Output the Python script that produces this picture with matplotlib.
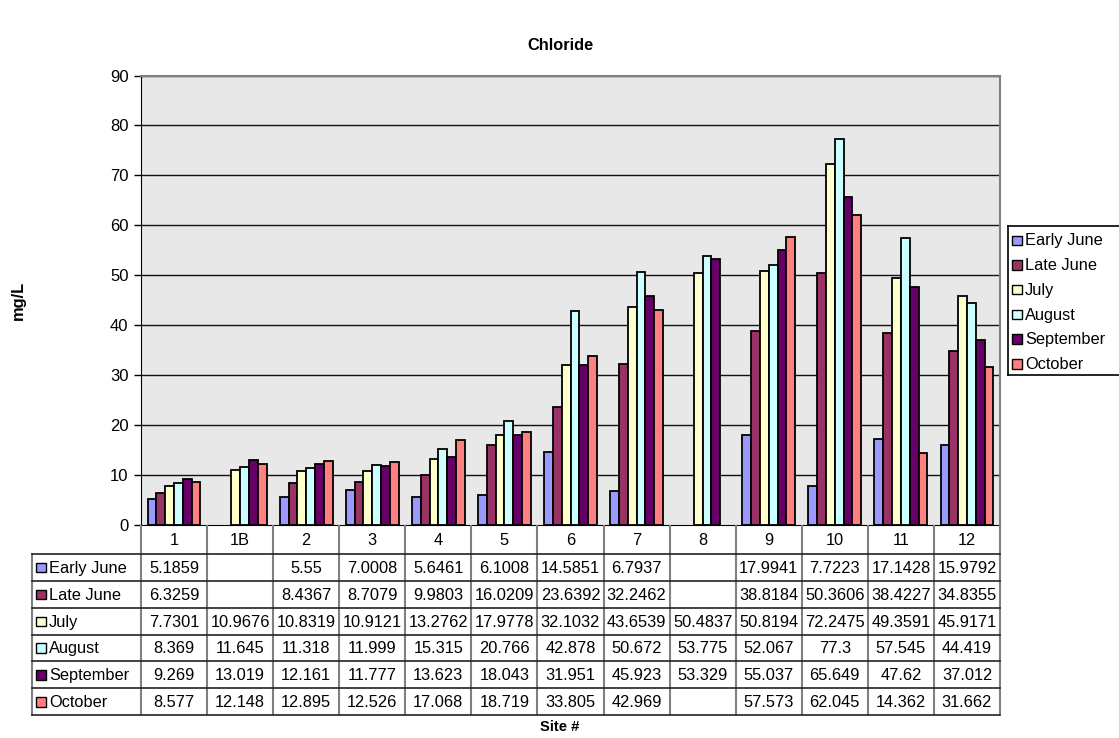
import matplotlib
matplotlib.use("Agg")
import matplotlib.pyplot as plt
from matplotlib.patches import Rectangle

plt.rcParams['font.family'] = ['Liberation Sans', 'DejaVu Sans']

categories = ['1', '1B', '2', '3', '4', '5', '6', '7', '8', '9', '10', '11', '12']
series_names = ['Early June', 'Late June', 'July', 'August', 'September', 'October']
early_june = [5.1859, None, 5.55, 7.0008, 5.6461, 6.1008, 14.5851, 6.7937, None, 17.9941, 7.7223, 17.1428, 15.9792]
late_june = [6.3259, None, 8.4367, 8.7079, 9.9803, 16.0209, 23.6392, 32.2462, None, 38.8184, 50.3606, 38.4227, 34.8355]
july = [7.7301, 10.9676, 10.8319, 10.9121, 13.2762, 17.9778, 32.1032, 43.6539, 50.4837, 50.8194, 72.2475, 49.3591, 45.9171]
august = [8.369, 11.645, 11.318, 11.999, 15.315, 20.766, 42.878, 50.672, 53.775, 52.067, 77.3, 57.545, 44.419]
september = [9.269, 13.019, 12.161, 11.777, 13.623, 18.043, 31.951, 45.923, 53.329, 55.037, 65.649, 47.62, 37.012]
october = [8.577, 12.148, 12.895, 12.526, 17.068, 18.719, 33.805, 42.969, None, 57.573, 62.045, 14.362, 31.662]
series = [early_june, late_june, july, august, september, october]
colors = ['#9999FF', '#993366', '#FFFFCC', '#CCFFFF', '#660066', '#FF8080']

W, H = 1119, 738
fig = plt.figure(figsize=(W / 100, H / 100), dpi=100)
fig.patch.set_facecolor('white')

# plot area in pixel coords
px_l, px_r, px_t, px_b = 141, 1000, 75.5, 525
ax = fig.add_axes([px_l / W, 1 - px_b / H, (px_r - px_l) / W, (px_b - px_t) / H])
ax.set_facecolor('#E8E8E8')
n = len(categories)
ax.set_xlim(-0.5, n - 0.5)
ax.set_ylim(0, 90)
ax.set_yticks(range(0, 91, 10))
ax.tick_params(axis='y', direction='out', length=5, width=1, labelsize=12, pad=4, color='black')
ax.set_xticks([])
for y in range(10, 91, 10):
    ax.axhline(y, color='#111111', lw=1, zorder=1)
for s in ['top', 'right']:
    ax.spines[s].set_color('#808080')
    ax.spines[s].set_linewidth(1.5)
ax.spines['left'].set_color('black')
ax.spines['bottom'].set_color('black')

bw = 0.8 / 6
for j, (vals, c) in enumerate(zip(series, colors)):
    for i, v in enumerate(vals):
        if v is None:
            continue
        ax.bar(i + (j - 2.5) * bw, v, width=bw, color=c, edgecolor='black', linewidth=1.3, zorder=3)

# overlay in pixel coordinates
ov = fig.add_axes([0, 0, 1, 1], zorder=5)
ov.set_xlim(0, W)
ov.set_ylim(H, 0)
ov.axis('off')
ov.patch.set_alpha(0)

fs = 11.8
col_w = (px_r - px_l) / n
tab_l = 32
hdr_b = 554
row_h = (715 - hdr_b) / 6
tab_b = hdr_b + 6 * row_h

# vertical lines
for i in range(n + 1):
    x = px_l + i * col_w
    ov.plot([x, x], [px_b, tab_b], color='#808080', lw=1.5, solid_capstyle='butt')
ov.plot([tab_l, tab_l], [hdr_b, tab_b], color='#808080', lw=1.5)
# horizontal lines
for r in range(7):
    y = hdr_b + r * row_h
    ov.plot([tab_l, px_r], [y, y], color='#222222', lw=1.2)

# header
for i, cat in enumerate(categories):
    ov.text(px_l + (i + 0.5) * col_w, (px_b + hdr_b) / 2 + 1, cat, ha='center', va='center', fontsize=fs)

# rows
for r, (name, vals, c) in enumerate(zip(series_names, series, colors)):
    yc = hdr_b + (r + 0.5) * row_h
    ov.add_patch(Rectangle((36, yc - 4.5), 9.5, 9.5, facecolor=c, edgecolor='black', lw=1))
    ov.text(49, yc + 1, name, ha='left', va='center', fontsize=fs)
    for i, v in enumerate(vals):
        if v is None:
            continue
        ov.text(px_l + (i + 0.5) * col_w, yc + 1, str(v), ha='center', va='center', fontsize=fs)

# legend
leg_l, leg_t, leg_b = 1008, 225.5, 374.5
ov.plot([leg_l, leg_l], [leg_t, leg_b], color='black', lw=1.2)
ov.plot([leg_l, W], [leg_t, leg_t], color='black', lw=1.2)
ov.plot([leg_l, W], [leg_b, leg_b], color='black', lw=1.2)
for r, (name, c) in enumerate(zip(series_names, colors)):
    yc = 240 + r * 24.7
    ov.add_patch(Rectangle((1012, yc - 4.5), 9.5, 9.5, facecolor=c, edgecolor='black', lw=1))
    ov.text(1025, yc + 1, name, ha='left', va='center', fontsize=fs)

# titles
ov.text(560, 45, 'Chloride', ha='center', va='center', fontsize=fs, fontweight='bold')
ov.text(18, 300, 'mg/L', ha='center', va='center', fontsize=fs, fontweight='bold', rotation=90)
ov.text(560, 727, 'Site #', ha='center', va='center', fontsize=fs * 0.9, fontweight='bold')

fig.savefig('out.png', dpi=100)
